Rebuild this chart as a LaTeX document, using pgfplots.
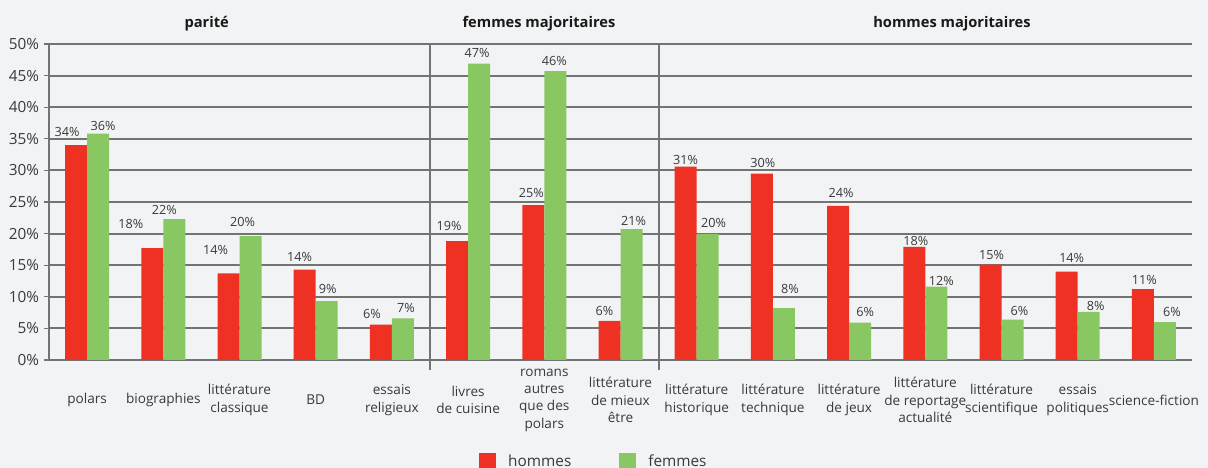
\documentclass[border=0pt]{standalone}
\usepackage{fontspec}
\setmainfont{Open Sans}
\usepackage{pgfplots}
\usepackage{pgfplotstable}
\pgfplotsset{compat=1.18}
\definecolor{bg}{HTML}{F2F3F5}
\definecolor{gridc}{HTML}{737373}
\definecolor{hred}{HTML}{EF3124}
\definecolor{fgreen}{HTML}{89C763}
\definecolor{txt}{HTML}{3A3A3A}

\pgfplotstableread{
x y dx up
0 34.0 -9 13
1 17.7 -21.5 24
2 13.7 -13 23
3 14.3 -5 13
4 5.6 -9 11
5 18.8 -8 15
6 24.5 -2 12
7 6.2 -5 10
8 30.6 0 7
9 29.5 1 11
10 24.4 3 13
11 17.9 1.5 6
12 15.1 1 10
13 14.0 5 14
14 11.2 1.5 9
}\hommes

\pgfplotstableread{
x y dx up
0 35.8 5 8
1 22.3 -10 9
2 19.6 -8 14
3 9.3 1 12
4 6.6 3 10
5 46.9 -2 11
6 45.7 -1 10
7 20.7 2 8
8 19.9 6 11
9 8.2 6 19
10 5.9 5 11
11 11.6 5 6
12 6.4 7 9
13 7.6 7 6
14 6.0 7 10
}\femmes

\pgfplotsset{
  lbl/.style={
    point meta=y,
    nodes near coords={\pgfmathprintnumber[fixed,precision=0]{\pgfplotspointmeta}\%},
    visualization depends on={\thisrow{dx}\as\dx},
    visualization depends on={\thisrow{up}\as\up},
    every node near coord/.append style={anchor=center, xshift={0.75*(\dx)*1pt}, yshift={0.75*(\up)*1pt}, font=\fontsize{9.5}{11}\selectfont, text=txt},
  }
}

\begin{document}
\begin{tikzpicture}
\fill[bg] (0,0) rectangle (906pt,351pt);
\path[use as bounding box] (0,0) rectangle (906pt,351pt);
\begin{axis}[
  at={(36.75pt,81pt)}, anchor=south west,
  scale only axis, width=857.25pt, height=237pt,
  xmin=-0.5, xmax=14.5, ymin=0, ymax=50,
  enlargelimits=false, clip=false,
  ybar=0pt, bar width=16.5pt,
  axis x line*=bottom, axis y line*=left,
  axis line style={draw=gridc, line width=1.6pt, -},
  ymajorgrids, major grid style={draw=gridc, line width=1.6pt},
  ytick={0,5,...,50},
  yticklabel={\pgfmathprintnumber{\tick}\%},
  /pgf/number format/assume math mode=true,
  yticklabel style={font=\fontsize{11.5}{13}\selectfont, text=txt},
  ytick style={draw=gridc, line width=1pt},
  tick align=outside, major tick length=4pt,
  xtick={0,...,14},
  xtick style={draw=none},
  xticklabels={{polars},{biographies},{littérature\\classique},{BD},{essais\\religieux},{livres\\de cuisine},{romans\\autres\\que des\\polars},{littérature\\de mieux\\être},{littérature\\historique},{littérature\\technique},{littérature\\de jeux},{littérature\\de reportage\\actualité},{littérature\\scientifique},{essais\\politiques},{science-fiction}},
  xticklabel style={font=\fontsize{10.2}{13}\selectfont, text=txt, align=center, anchor=center, yshift=-26pt},
  legend style={at={(0.477,-0.322)}, anchor=center, draw=none, fill=none, legend columns=2, font=\fontsize{11.5}{13}\selectfont, text=txt, /tikz/every odd column/.append style={column sep=7pt}, /tikz/every even column/.append style={column sep=34pt}},
]
\addplot[fill=hred, draw=none, lbl, legend image code/.code={\fill[hred] (0pt,-6.375pt) rectangle (12.75pt,6.375pt);}] table[x=x,y=y] {\hommes};
\addlegendentry{hommes}
\addplot[fill=fgreen, draw=none, lbl, legend image code/.code={\fill[fgreen] (0pt,-6.375pt) rectangle (12.75pt,6.375pt);}] table[x=x,y=y] {\femmes};
\addlegendentry{femmes}
\draw[gridc, line width=1.6pt] (axis cs:4.5,50) -- (axis cs:4.5,-1.6);
\draw[gridc, line width=1.6pt] (axis cs:7.5,50) -- (axis cs:7.5,-1.6);
\node[font=\bfseries\fontsize{11}{13}\selectfont, text=black!90] at (axis cs:1.57,53.2) {parité};
\node[font=\bfseries\fontsize{11}{13}\selectfont, text=black!90] at (axis cs:5.93,53.2) {femmes majoritaires};
\node[font=\bfseries\fontsize{11}{13}\selectfont, text=black!90] at (axis cs:11.35,53.2) {hommes majoritaires};
\end{axis}
\end{tikzpicture}
\end{document}
